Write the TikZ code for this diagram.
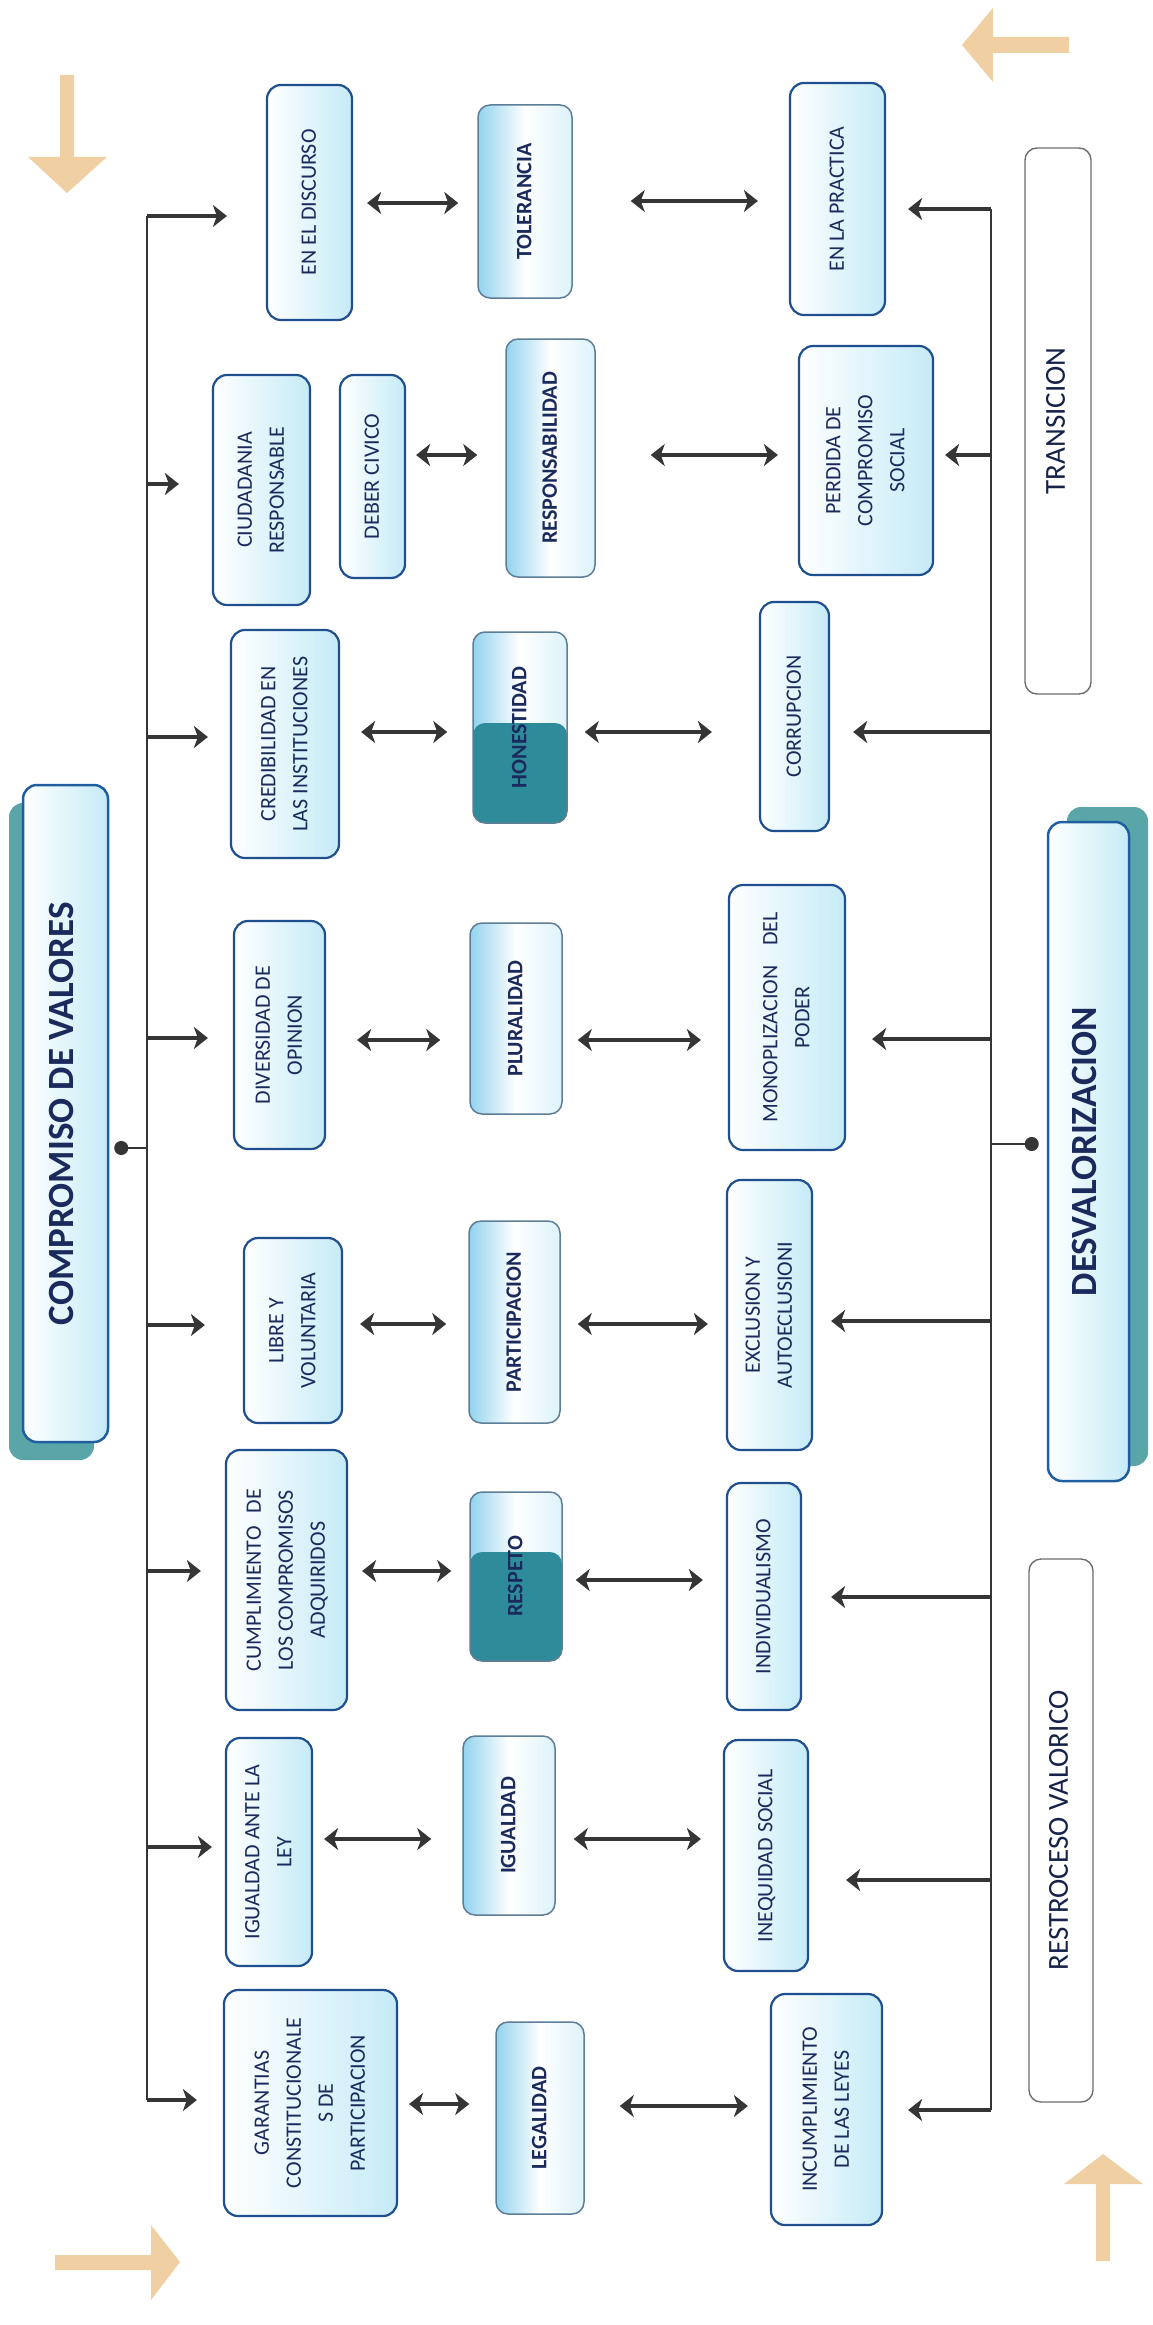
\documentclass[tikz,border=0pt]{standalone}
\usepackage{fontspec}
\setmainfont{Carlito}
\usepackage{graphicx}
\usetikzlibrary{arrows.meta}

\definecolor{navy}{HTML}{1B2A5C}
\definecolor{bxborder}{HTML}{1F4F8F}
\definecolor{bxlight}{HTML}{C5EBF7}
\definecolor{vallight}{HTML}{92D3EE}
\definecolor{valborder}{HTML}{5E7D96}
\definecolor{tealfill}{HTML}{2E8C9A}
\definecolor{shadowteal}{HTML}{5AA5A8}
\definecolor{linegrey}{HTML}{353535}
\definecolor{orangearrow}{HTML}{F0D0A2}
\definecolor{greyborder}{HTML}{6E6E6E}
\definecolor{hdrborder}{HTML}{1F5FA0}

\newcommand{\rtxt}[2][0pt]{\rotatebox{90}{\begin{tabular}{@{}c@{}}#2\end{tabular}}\hspace{#1}}

\tikzset{
  cbox/.style={draw=bxborder, line width=2.2pt, rounded corners=14pt, left color=white, right color=bxlight,
    inner sep=0pt, font=\fontsize{22}{32}\selectfont, text=navy},
  vbox/.style={draw=valborder, line width=1.5pt, rounded corners=12pt, left color=vallight, right color=bxlight!60,
    middle color=white, inner sep=0pt, font=\fontsize{22}{32}\selectfont\bfseries, text=navy},
  hdrbox/.style={draw=hdrborder, line width=2.5pt, rounded corners=14pt, left color=white, right color=bxlight,
    inner sep=0pt, font=\fontsize{37}{42}\selectfont\bfseries, text=navy},
  tbox/.style={draw=greyborder, line width=1.4pt, rounded corners=12pt, fill=white, inner sep=0pt,
    font=\fontsize{29}{34}\selectfont, text=navy!80!black},
  trunkline/.style={draw=linegrey, line width=2.6pt},
  arr/.style={draw=linegrey, line width=3.5pt, -{Stealth[length=14pt,width=22pt,inset=4pt]}},
  dbl/.style={draw=linegrey, line width=3.5pt, {Stealth[length=14pt,width=22pt,inset=4pt]}-{Stealth[length=14pt,width=22pt,inset=4pt]}},
  dotc/.style={draw=linegrey, line width=2.6pt, -{Circle[length=14pt]}},
  orng/.style={fill=orangearrow},
  tealpart/.style={path picture={\fill[tealfill] (path picture bounding box.south west) rectangle ([yshift=#1]path picture bounding box.south east);}}
}

\begin{document}
\begin{tikzpicture}[x=1pt,y=-1pt]
\useasboundingbox (0,0) rectangle (1152,2325);
\fill[white] (0,0) rectangle (1152,2325);

% decorative orange arrows
\fill[orng] (60,75) -- (74,75) -- (74,157) -- (107,157) -- (67,193) -- (28,157) -- (60,157) -- cycle;
\fill[orng] (1069,37) -- (1069,53) -- (993,53) -- (993,82) -- (962,45) -- (993,8) -- (993,37) -- cycle;
\fill[orng] (55,2255) -- (151,2255) -- (151,2225) -- (180,2262) -- (151,2300) -- (151,2270) -- (55,2270) -- cycle;
\fill[orng] (1096,2261) -- (1096,2184) -- (1064,2184) -- (1103,2154) -- (1143,2184) -- (1110,2184) -- (1110,2261) -- cycle;

% header shadows
\fill[shadowteal, rounded corners=14pt] (9,803) rectangle (94,1460);
\fill[shadowteal, rounded corners=14pt] (1067,807) rectangle (1148,1466);

% headers
\node[hdrbox, minimum width=85pt, minimum height=657pt] (comp) at (65.5,1113.5) {\rtxt{COMPROMISO DE VALORES}};
\node[hdrbox, minimum width=81pt, minimum height=659pt] (desval) at (1088.5,1151.5) {\rtxt{DESVALORIZACION}};

% side text boxes
\node[tbox, minimum width=66pt, minimum height=546pt] (trans) at (1058,421) {\rtxt{TRANSICION}};
\node[tbox, minimum width=64pt, minimum height=543pt] (restro) at (1061,1830.5) {\rtxt{RESTROCESO VALORICO}};

% compromiso column
\node[cbox, minimum width=85pt, minimum height=235pt] (disc) at (309.5,202.5) {\rtxt[29pt]{EN EL DISCURSO}};
\node[cbox, minimum width=97pt, minimum height=230pt] (ciud) at (261.5,490) {\rtxt{CIUDADANIA\\RESPONSABLE}};
\node[cbox, minimum width=65pt, minimum height=203pt] (deber) at (372.5,476.5) {\rtxt[6pt]{DEBER CIVICO}};
\node[cbox, minimum width=108pt, minimum height=228pt] (cred) at (285,744) {\rtxt[8pt]{CREDIBILIDAD EN\\LAS INSTITUCIONES}};
\node[cbox, minimum width=91pt, minimum height=228pt] (div) at (279.5,1035) {\rtxt{DIVERSIDAD DE\\OPINION}};
\node[cbox, minimum width=98pt, minimum height=185pt] (libre) at (293,1330.5) {\rtxt{LIBRE Y\\VOLUNTARIA}};
\node[cbox, minimum width=121pt, minimum height=260pt] (cump) at (286.5,1580) {\rtxt{CUMPLIMIENTO\hspace{0.6em}DE\\LOS COMPROMISOS\\ADQUIRIDOS}};
\node[cbox, minimum width=86pt, minimum height=228pt] (igley) at (269,1852) {\rtxt{IGUALDAD ANTE LA\\LEY}};
\node[cbox, minimum width=173pt, minimum height=226pt] (garan) at (310.5,2103) {\rtxt[13pt]{GARANTIAS\\CONSTITUCIONALE\\S DE\\PARTICIPACION}};

% value column
\node[vbox, minimum width=94pt, minimum height=193pt] (tol) at (525,201.5) {\rtxt[40pt]{TOLERANCIA}};
\node[vbox, minimum width=89pt, minimum height=238pt] (resp) at (550.5,458) {\rtxt[30pt]{RESPONSABILIDAD}};
\node[vbox, tealpart=100pt, minimum width=94pt, minimum height=191pt] (hon) at (520,727.5) {\rtxt[35pt]{HONESTIDAD}};
\node[vbox, minimum width=92pt, minimum height=191pt] (plur) at (516,1018.5) {\rtxt[36pt]{PLURALIDAD}};
\node[vbox, minimum width=91pt, minimum height=202pt] (part) at (514.5,1322) {\rtxt[32pt]{PARTICIPACION}};
\node[vbox, tealpart=109pt, minimum width=92pt, minimum height=169pt] (respe) at (516,1576.5) {\rtxt[36pt]{RESPETO}};
\node[vbox, minimum width=92pt, minimum height=179pt] (igual) at (509,1825.5) {\rtxt[38pt]{IGUALDAD}};
\node[vbox, minimum width=88pt, minimum height=192pt] (legal) at (540,2118) {\rtxt[34pt]{LEGALIDAD}};

% desvalorizacion column
\node[cbox, minimum width=95pt, minimum height=232pt] (prac) at (837.5,199) {\rtxt[40pt]{EN LA PRACTICA}};
\node[cbox, minimum width=134pt, minimum height=229pt] (perd) at (866,460.5) {\rtxt[14pt]{PERDIDA DE\\COMPROMISO\\SOCIAL}};
\node[cbox, minimum width=69pt, minimum height=229pt] (corr) at (794.5,716.5) {\rtxt[10pt]{CORRUPCION}};
\node[cbox, minimum width=116pt, minimum height=265pt] (mono) at (787,1017.5) {\rtxt[20pt]{MONOPLIZACION\hspace{0.9em}DEL\\PODER}};
\node[cbox, minimum width=85pt, minimum height=270pt] (excl) at (769.5,1315) {\rtxt{EXCLUSION Y\\AUTOECLUSIONI}};
\node[cbox, minimum width=74pt, minimum height=227pt] (indiv) at (764,1596.5) {\rtxt[30pt]{INDIVIDUALISMO}};
\node[cbox, minimum width=84pt, minimum height=231pt] (ineq) at (766,1855.5) {\rtxt[30pt]{INEQUIDAD SOCIAL}};
\node[cbox, minimum width=111pt, minimum height=231pt] (incum) at (826.5,2109.5) {\rtxt[24pt]{INCUMPLIMIENTO\\DE LAS LEYES}};

% left trunk
\coordinate (lb1) at (147,216);
\coordinate (lb2) at (147,484);
\coordinate (lb3) at (147,737);
\coordinate (lb4) at (147,1038);
\coordinate (lb5) at (147,1325);
\coordinate (lb6) at (147,1571);
\coordinate (lb7) at (147,1847);
\coordinate (lb8) at (147,2100);
\coordinate (ldot) at (147,1148);
\draw[trunkline] (lb1) -- (lb8);
\draw[arr, shorten >=39pt] (lb1) -- (disc.west |- lb1);
\draw[arr, shorten >=33pt] (lb2) -- (ciud.west |- lb2);
\draw[arr, shorten >=22pt] (lb3) -- (cred.west |- lb3);
\draw[arr, shorten >=25pt] (lb4) -- (div.west |- lb4);
\draw[arr, shorten >=38pt] (lb5) -- (libre.west |- lb5);
\draw[arr, shorten >=24pt] (lb6) -- (cump.west |- lb6);
\draw[arr, shorten >=13pt] (lb7) -- (igley.west |- lb7);
\draw[arr, shorten >=26pt] (lb8) -- (garan.west |- lb8);
\draw[dotc, shorten >=5pt] (ldot) -- (comp.east |- ldot);

% right trunk
\coordinate (rb1) at (991,209);
\coordinate (rb2) at (991,455);
\coordinate (rb3) at (991,732);
\coordinate (rb4) at (991,1039);
\coordinate (rb5) at (991,1321);
\coordinate (rb6) at (991,1597);
\coordinate (rb7) at (991,1880);
\coordinate (rb8) at (991,2110);
\coordinate (rdot) at (991,1144);
\draw[trunkline] (rb1) -- (rb8);
\draw[arr, shorten >=22pt] (rb1) -- (prac.east |- rb1);
\draw[arr, shorten >=11pt] (rb2) -- (perd.east |- rb2);
\draw[arr, shorten >=23pt] (rb3) -- (corr.east |- rb3);
\draw[arr, shorten >=26pt] (rb4) -- (mono.east |- rb4);
\draw[arr, shorten >=18pt] (rb5) -- (excl.east |- rb5);
\draw[arr, shorten >=29pt] (rb6) -- (indiv.east |- rb6);
\draw[arr, shorten >=37pt] (rb7) -- (ineq.east |- rb7);
\draw[arr, shorten >=25pt] (rb8) -- (incum.east |- rb8);
\draw[dotc, shorten >=8pt] (rdot) -- (desval.west |- rdot);

% double arrows
\draw[dbl, shorten <=14pt, shorten >=19pt] (disc.east |- 0,203) -- (tol.west |- 0,203);
\draw[dbl, shorten <=58pt, shorten >=31pt] (tol.east |- 0,201) -- (prac.west |- 0,201);
\draw[dbl, shorten <=10pt, shorten >=28pt] (deber.east |- 0,455) -- (resp.west |- 0,455);
\draw[dbl, shorten <=55pt, shorten >=20pt] (resp.east |- 0,455) -- (perd.west |- 0,455);
\draw[dbl, shorten <=21pt, shorten >=25pt] (cred.east |- 0,732) -- (hon.west |- 0,732);
\draw[dbl, shorten <=17pt, shorten >=47pt] (hon.east |- 0,732) -- (corr.west |- 0,732);
\draw[dbl, shorten <=31pt, shorten >=29pt] (div.east |- 0,1040) -- (plur.west |- 0,1040);
\draw[dbl, shorten <=15pt, shorten >=27pt] (plur.east |- 0,1040) -- (mono.west |- 0,1040);
\draw[dbl, shorten <=17pt, shorten >=22pt] (libre.east |- 0,1324) -- (part.west |- 0,1324);
\draw[dbl, shorten <=17pt, shorten >=18pt] (part.east |- 0,1324) -- (excl.west |- 0,1324);
\draw[dbl, shorten <=14pt, shorten >=18pt] (cump.east |- 0,1571) -- (respe.west |- 0,1571);
\draw[dbl, shorten <=13pt, shorten >=23pt] (respe.east |- 0,1580) -- (indiv.west |- 0,1580);
\draw[dbl, shorten <=11pt, shorten >=31pt] (igley.east |- 0,1839) -- (igual.west |- 0,1839);
\draw[dbl, shorten <=18pt, shorten >=22pt] (igual.east |- 0,1839) -- (ineq.west |- 0,1839);
\draw[dbl, shorten <=11pt, shorten >=26pt] (garan.east |- 0,2104) -- (legal.west |- 0,2104);
\draw[dbl, shorten <=35pt, shorten >=22pt] (legal.east |- 0,2106) -- (incum.west |- 0,2106);
\end{tikzpicture}
\end{document}
